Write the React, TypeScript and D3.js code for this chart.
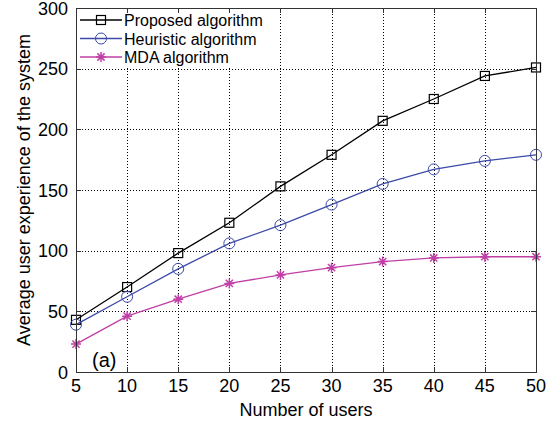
import React, { useRef, useEffect } from 'react';
import * as d3 from 'd3';

// data
const users = [5, 10, 15, 20, 25, 30, 35, 40, 45, 50];
const proposed = [43, 70, 98, 123, 153, 179, 207, 225, 244, 251];
const heuristic = [39, 62, 85, 106, 121, 138, 155, 167, 174, 179];
const mda = [23, 46, 60, 73, 80, 86, 91, 94, 95, 95];
const yTicks = [0, 50, 100, 150, 200, 250, 300];
const xTicks = [5, 10, 15, 20, 25, 30, 35, 40, 45, 50];

const series = [
  { name: 'Proposed algorithm', values: proposed, color: '#000000', marker: 'square' },
  { name: 'Heuristic algorithm', values: heuristic, color: '#3c4aa8', marker: 'circle' },
  { name: 'MDA algorithm', values: mda, color: '#c03fa6', marker: 'star' },
];

const W = 556;
const H = 423;
const margin = { left: 76, right: 20, top: 8, bottom: 51 };
const FONT = 'Liberation Sans, Arial, Helvetica, sans-serif';

function drawMarker(g, type, x, y, color) {
  if (type === 'square') {
    g.append('rect')
      .attr('x', x - 4.5).attr('y', y - 4.5)
      .attr('width', 9).attr('height', 9)
      .attr('fill', 'none').attr('stroke', color).attr('stroke-width', 1.2);
  } else if (type === 'circle') {
    g.append('circle')
      .attr('cx', x).attr('cy', y).attr('r', 5.5)
      .attr('fill', 'none').attr('stroke', color).attr('stroke-width', 1);
  } else {
    const r = 5;
    const d = r * 0.72;
    const p = `M${x - r},${y}L${x + r},${y}M${x},${y - r}L${x},${y + r}` +
      `M${x - d},${y - d}L${x + d},${y + d}M${x - d},${y + d}L${x + d},${y - d}`;
    g.append('path').attr('d', p).attr('stroke', color).attr('stroke-width', 1.5).attr('fill', 'none');
  }
}

export default function App() {
  const ref = useRef(null);

  useEffect(() => {
    const svg = d3.select(ref.current);
    svg.selectAll('*').remove();

    const x = d3.scaleLinear().domain([5, 50]).range([margin.left, W - margin.right]);
    const y = d3.scaleLinear().domain([0, 300]).range([H - margin.bottom, margin.top]);
    const [x0, x1] = x.range();
    const [y0, y1] = y.range();

    svg.append('rect').attr('width', W).attr('height', H).attr('fill', '#fff');

    // grid //
    const grid = svg.append('g').attr('stroke', '#000').attr('stroke-width', 1).attr('stroke-dasharray', '1,2');
    xTicks.slice(1, -1).forEach(t => {
      grid.append('line').attr('x1', Math.round(x(t)) + 0.5).attr('x2', Math.round(x(t)) + 0.5)
        .attr('y1', y0).attr('y2', y1);
    });
    yTicks.slice(1, -1).forEach(t => {
      grid.append('line').attr('y1', Math.round(y(t)) + 0.5).attr('y2', Math.round(y(t)) + 0.5)
        .attr('x1', x0).attr('x2', x1);
    });

    // lines + markers //
    const line = d3.line().x((d, i) => x(users[i])).y(d => y(d));
    series.forEach(s => {
      svg.append('path').datum(s.values)
        .attr('d', line).attr('fill', 'none')
        .attr('stroke', s.color).attr('stroke-width', 1.3);
      const mg = svg.append('g');
      s.values.forEach((v, i) => drawMarker(mg, s.marker, x(users[i]), y(v), s.color));
    });

    // legend //
    const lg = svg.append('g');
    lg.append('rect').attr('x', x0 + 1).attr('y', y1 + 1).attr('width', 195).attr('height', 58).attr('fill', '#fff');
    series.forEach((s, i) => {
      const ly = 20 + i * 18.5;
      lg.append('line').attr('x1', 80).attr('x2', 122).attr('y1', ly).attr('y2', ly)
        .attr('stroke', s.color).attr('stroke-width', 1.3);
      drawMarker(lg, s.marker, 101, ly, s.color);
      lg.append('text').attr('x', 124).attr('y', ly + 6)
        .attr('font-family', FONT).attr('font-size', 16).attr('fill', '#000')
        .text(s.name);
    });

    // axes box //
    const box = svg.append('g').attr('stroke', '#333').attr('stroke-width', 1).attr('fill', 'none');
    box.append('rect').attr('x', x0 + 0.5).attr('y', y1 + 0.5).attr('width', x1 - x0).attr('height', y0 - y1);
    xTicks.forEach(t => {
      const px = Math.round(x(t)) + 0.5;
      box.append('line').attr('x1', px).attr('x2', px).attr('y1', y0).attr('y2', y0 - 5);
      box.append('line').attr('x1', px).attr('x2', px).attr('y1', y1).attr('y2', y1 + 5);
    });
    yTicks.forEach(t => {
      const py = Math.round(y(t)) + 0.5;
      box.append('line').attr('y1', py).attr('y2', py).attr('x1', x0).attr('x2', x0 + 5);
      box.append('line').attr('y1', py).attr('y2', py).attr('x1', x1).attr('x2', x1 - 5);
    });

    // tick labels //
    const tl = svg.append('g').attr('font-family', FONT).attr('font-size', 18).attr('fill', '#000');
    xTicks.forEach(t => {
      tl.append('text').attr('x', x(t)).attr('y', y0 + 20).attr('text-anchor', 'middle').text(t);
    });
    yTicks.forEach(t => {
      tl.append('text').attr('x', x0 - 8).attr('y', y(t) + 6.5).attr('text-anchor', 'end').text(t);
    });

    // axis titles //
    svg.append('text').attr('x', (x0 + x1) / 2).attr('y', 416)
      .attr('text-anchor', 'middle').attr('font-family', FONT).attr('font-size', 18)
      .text('Number of users');
    svg.append('text').attr('transform', `translate(30, ${(y0 + y1) / 2}) rotate(-90)`)
      .attr('text-anchor', 'middle').attr('font-family', FONT).attr('font-size', 18)
      .text('Average user experience of the system');

    svg.append('text').attr('x', 92).attr('y', 367)
      .attr('font-family', FONT).attr('font-size', 20).text('(a)');
  }, []);

  return (
    <svg ref={ref} width={W} height={H} style={{ position: 'absolute', left: 0, top: 0 }} />
  );
}
